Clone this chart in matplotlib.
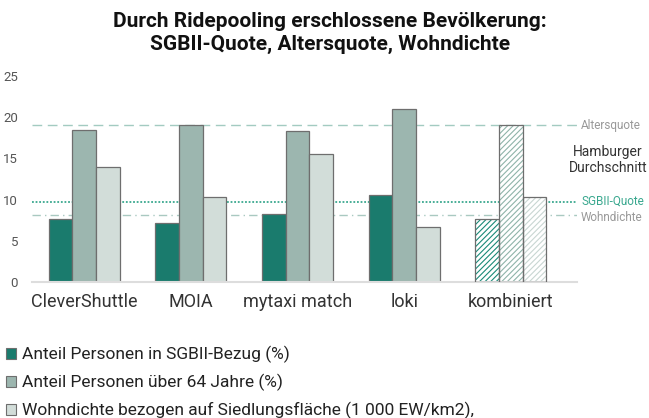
import matplotlib
matplotlib.use("Agg")
import matplotlib.pyplot as plt
from matplotlib.patches import Patch
import numpy as np

plt.rcParams['font.family'] = ['Roboto', 'DejaVu Sans']
plt.rcParams['hatch.linewidth'] = 0.8

categories = ["CleverShuttle", "MOIA", "mytaxi match", "loki", "kombiniert"]
sgb2 = [7.6, 7.1, 8.2, 10.5, 7.6]
ueber64 = [18.5, 19.0, 18.3, 21.0, 19.0]
wohndichte = [13.9, 10.3, 15.5, 6.7, 10.3]
avg_alter = 19.0
avg_sgb2 = 9.7
avg_wohn = 8.15
series_labels = ["Anteil Personen in SGBII-Bezug (%)",
                 "Anteil Personen über 64 Jahre (%)",
                 "Wohndichte bezogen auf Siedlungsfläche (1 000 EW/km2),"]
title = "Durch Ridepooling erschlossene Bevölkerung:\nSGBII-Quote, Altersquote, Wohndichte"

colors = ["#1a7b6d", "#9cb6af", "#d2ddd9"]
hatch_colors = ["#1a8a78", "#8fb3a9", "#c8d6d2"]
edge = "#6e6e6e"

W, H = 649, 418
fig = plt.figure(figsize=(W/100, H/100), dpi=100)
ax = fig.add_axes([32/W, 1-282/H, (577-32)/W, (282-76)/H])

x = np.arange(len(categories))
bw = 0.222
offsets = [-bw, 0, bw]
for si, vals in enumerate([sgb2, ueber64, wohndichte]):
    for i, v in enumerate(vals):
        xi = x[i] + offsets[si]
        if categories[i] == "kombiniert":
            ax.bar(xi, v, width=bw, color="white", edgecolor=hatch_colors[si],
                   hatch="//////", linewidth=0, zorder=2)
            ax.bar(xi, v, width=bw, fill=False, edgecolor=edge, linewidth=0.9, zorder=3)
        else:
            ax.bar(xi, v, width=bw, color=colors[si], edgecolor=edge, linewidth=0.9, zorder=2)

ax.axhline(avg_alter, color="#a3cbc1", linestyle=(0, (7, 4)), linewidth=1.0, zorder=1)
ax.axhline(avg_sgb2, color="#3aa88f", linestyle=(0, (1, 1)), linewidth=1.3, zorder=1)
ax.axhline(avg_wohn, color="#a9c9c1", linestyle=(0, (6, 3, 1, 3)), linewidth=1.0, zorder=1)

ax.set_xlim(-0.49, 4.62)
ax.set_ylim(0, 25)
ax.set_yticks([0, 5, 10, 15, 20, 25])
ax.set_xticks(x)
ax.set_xticklabels(categories, fontsize=13, color="#333333")
ax.tick_params(axis='y', length=0, labelsize=9.5, labelcolor="#555555", pad=10)
ax.tick_params(axis='x', length=0, pad=8)
for s in ["top", "right", "left"]:
    ax.spines[s].set_visible(False)
ax.spines["bottom"].set_color("#dddddd")
ax.spines["bottom"].set_linewidth(1.5)

fig.text(330/W, 1-33/H, title, ha="center", va="center", fontsize=15,
         fontweight="bold", color="#111111", linespacing=1.2)

fig.text(581/W, 1-125/H, "Altersquote", ha="left", va="center", fontsize=8.5, color="#999999")
fig.text(608/W, 1-160/H, "Hamburger\nDurchschnitt", ha="center", va="center", fontsize=10,
         color="#333333", linespacing=1.1)
fig.text(581/W, 1-201/H, "SGBII-Quote", ha="left", va="center", fontsize=8.5, color="#3aa88f")
fig.text(581/W, 1-218/H, "Wohndichte", ha="left", va="center", fontsize=8.5, color="#999999")

handles = [Patch(facecolor=c, edgecolor=edge, linewidth=0.8) for c in colors]
fig.legend(handles, series_labels, loc="upper left", bbox_to_anchor=(6/W, 1-346/H),
           frameon=False, fontsize=12.5, handlelength=0.6, handleheight=0.6,
           handletextpad=0.3, labelspacing=0.62, borderpad=0, borderaxespad=0,
           labelcolor="#222222")

fig.savefig("out.png", dpi=100)
